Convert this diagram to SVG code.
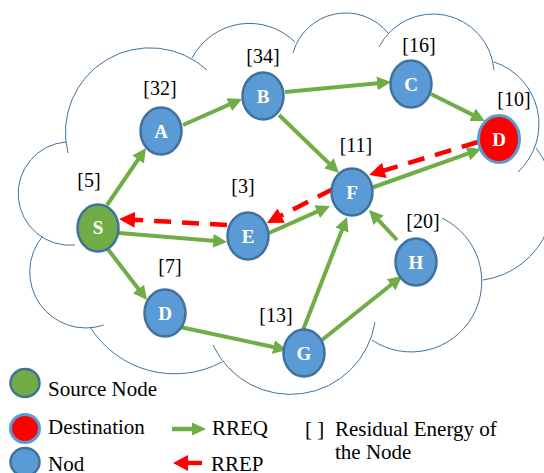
<svg xmlns="http://www.w3.org/2000/svg" width="544" height="473" viewBox="0 0 544 473">
  <style>
    .cloud { fill: none; stroke: #41719C; stroke-width: 1; }
    .node { fill: #5B9BD5; stroke: #41719C; stroke-width: 2.5; }
    .src { fill: #70AD47; stroke: #41719C; stroke-width: 2.5; }
    .dst { fill: #FF0000; stroke: #5B9BD5; stroke-width: 3; }
    .nlabel { font-family: "Liberation Serif", "Times New Roman", serif; font-weight: bold; font-size: 19px; fill: #FFFFFF; text-anchor: middle; }
    .energy { font-family: "Liberation Serif", "Times New Roman", serif; font-size: 20px; fill: #000000; text-anchor: middle; }
    .legend { font-family: "Liberation Serif", "Times New Roman", serif; font-size: 21px; fill: #000000; }
    .rreq { fill: none; stroke: #70AD47; stroke-width: 4; marker-end: url(#arrowGreen); }
    .rrep { fill: none; stroke: #FF0000; stroke-width: 4.5; stroke-dasharray: 17 11; marker-end: url(#arrowRed); }
  </style>
  <defs>
    <marker id="arrowGreen" markerUnits="userSpaceOnUse" markerWidth="14" markerHeight="14" refX="6" refY="7" orient="auto">
      <path d="M0,0 L14,7 L0,14 z" fill="#70AD47"/>
    </marker>
    <marker id="arrowRed" markerUnits="userSpaceOnUse" markerWidth="16" markerHeight="16" refX="8" refY="8" orient="auto">
      <path d="M0,0 L16,8 L0,16 z" fill="#FF0000"/>
    </marker>
  </defs>

  <rect width="544" height="473" fill="#FFFFFF"/>

  <!-- cloud outline: one arc per lobe, some running a little past the joint -->
  <g id="cloud">
    <path class="cloud" d="
      M75,245 A51.7,51.7 0 1 1 66,142
      M68,153 A84.5,84.5 0 0 1 207,70
      M192,58 A65,65 0 0 1 295,42
      M293,53 A54.7,54.7 0 0 1 388,33
      M379,47 A61,61 0 0 1 494,70
      M494,62 A65.3,65.3 0 0 1 518,172
      M536,148 A82,82 0 0 1 483,280
      M442,218 A70.5,70.5 0 1 1 372,340
      M375,322 A85.5,85.5 0 0 1 213,345
      M222,362 A100.2,100.2 0 0 1 90,327
      M103.7,325 A56,56 0 0 1 42,237"/>
  </g>

  <!-- connectors -->
  <g id="connectors">
    <line class="rreq" x1="107" y1="205" x2="141.5" y2="154.6"/>
    <line class="rreq" x1="183" y1="125" x2="234.7" y2="102.2"/>
    <line class="rreq" x1="285" y1="92" x2="383" y2="82.8"/>
    <line class="rreq" x1="431" y1="94" x2="477.8" y2="117.4"/>
    <line class="rreq" x1="279" y1="115" x2="333.2" y2="167.4"/>
    <line class="rreq" x1="371" y1="188" x2="473.5" y2="151.7"/>
    <line class="rreq" x1="119" y1="233" x2="219" y2="241.3"/>
    <line class="rreq" x1="269" y1="233" x2="322.7" y2="209.2"/>
    <line class="rreq" x1="107" y1="248" x2="142.1" y2="293.7"/>
    <line class="rreq" x1="180" y1="327" x2="279.2" y2="348.3"/>
    <line class="rreq" x1="303" y1="330" x2="344.1" y2="224.5"/>
    <line class="rreq" x1="322" y1="340" x2="395.8" y2="281"/>
    <line class="rreq" x1="397" y1="240" x2="374.5" y2="215.9"/>
    <line class="rrep" x1="478" y1="142" x2="376.7" y2="172.7"/>
    <line class="rrep" x1="333" y1="189" x2="274.1" y2="219.3"/>
    <line class="rrep" x1="227" y1="225" x2="127" y2="219.4"/>
  </g>

  <!-- nodes -->
  <g id="node-S">
    <ellipse class="src" cx="98" cy="228" rx="20.5" ry="23.5"/>
    <text class="nlabel" x="98" y="234">S</text>
  </g>
  <g id="node-A">
    <ellipse class="node" cx="161" cy="131" rx="20.5" ry="23.5"/>
    <text class="nlabel" x="161" y="137.5">A</text>
  </g>
  <g id="node-B">
    <ellipse class="node" cx="263" cy="96" rx="20.5" ry="23.5"/>
    <text class="nlabel" x="263" y="102.5">B</text>
  </g>
  <g id="node-C">
    <ellipse class="node" cx="411" cy="84" rx="20.5" ry="23.5"/>
    <text class="nlabel" x="411" y="90.5">C</text>
  </g>
  <g id="node-Ddst">
    <ellipse class="dst" cx="499" cy="139" rx="20.5" ry="23.5"/>
    <text class="nlabel" x="499" y="145.5">D</text>
  </g>
  <g id="node-F">
    <ellipse class="node" cx="352" cy="192" rx="20.5" ry="23.5"/>
    <text class="nlabel" x="352" y="198.5">F</text>
  </g>
  <g id="node-E">
    <ellipse class="node" cx="248" cy="236" rx="20.5" ry="23.5"/>
    <text class="nlabel" x="248" y="242.5">E</text>
  </g>
  <g id="node-D">
    <ellipse class="node" cx="165" cy="313" rx="20.5" ry="23.5"/>
    <text class="nlabel" x="165" y="319.5">D</text>
  </g>
  <g id="node-G">
    <ellipse class="node" cx="304" cy="353" rx="20.5" ry="23.5"/>
    <text class="nlabel" x="304" y="359.5">G</text>
  </g>
  <g id="node-H">
    <ellipse class="node" cx="416" cy="262" rx="20.5" ry="23.5"/>
    <text class="nlabel" x="416" y="268.5">H</text>
  </g>

  <!-- residual energy values -->
  <g id="energy-labels">
    <text class="energy" x="160" y="95">[32]</text>
    <text class="energy" x="263" y="62.5">[34]</text>
    <text class="energy" x="419" y="51.5">[16]</text>
    <text class="energy" x="514" y="106">[10]</text>
    <text class="energy" x="356" y="151.5">[11]</text>
    <text class="energy" x="423" y="227.5">[20]</text>
    <text class="energy" x="89" y="187">[5]</text>
    <text class="energy" x="243" y="193">[3]</text>
    <text class="energy" x="170" y="273">[7]</text>
    <text class="energy" x="276" y="321.5">[13]</text>
  </g>

  <!-- legend -->
  <g id="legend">
    <ellipse class="src" cx="25" cy="383" rx="14.5" ry="14"/>
    <text class="legend" x="48" y="396">Source Node</text>
    <ellipse class="dst" cx="25" cy="428.5" rx="14.5" ry="14"/>
    <text class="legend" x="48" y="434">Destination</text>
    <ellipse class="node" cx="25" cy="462" rx="14.5" ry="14"/>
    <text class="legend" x="48" y="471">Nod</text>

    <line x1="172" y1="429" x2="193" y2="429" stroke="#70AD47" stroke-width="4.5"/>
    <path d="M192,422.5 L206,429 L192,435.5 z" fill="#70AD47"/>
    <text class="legend" x="212" y="435">RREQ</text>

    <line x1="187" y1="463" x2="202" y2="463" stroke="#FF0000" stroke-width="4.5"/>
    <path d="M188,455 L173,463 L188,471 z" fill="#FF0000"/>
    <text class="legend" x="211" y="471">RREP</text>

    <text class="legend" x="305" y="436">[ ]</text>
    <text class="legend" x="335" y="436">Residual Energy of</text>
    <text class="legend" x="335" y="459">the Node</text>
  </g>
</svg>
